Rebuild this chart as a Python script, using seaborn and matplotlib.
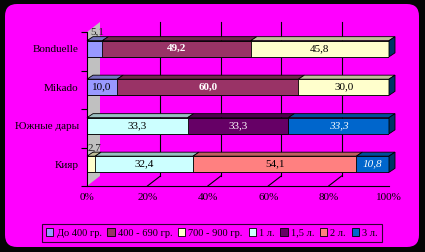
import numpy as np
import pandas as pd
import seaborn as sns
import matplotlib
matplotlib.use("Agg")
import matplotlib.pyplot as plt
from matplotlib.patches import Polygon, Patch, FancyBboxPatch

# ---- data ----
categories = ["Bonduelle", "Mikado", "Южные дары", "Кияр"]
segments = ["До 400 гр.", "400 - 690 гр.", "700 - 900 гр.", "1 л.", "1,5 л.", "2 л.", "3 л."]
colors = ["#9999FF", "#993366", "#FFFFCC", "#CCFFFF", "#660066", "#FF8080", "#0066CC"]
do400 = [5.1, 10.0, 0, 0]
g400_690 = [49.2, 60.0, 0, 0]
g700_900 = [45.8, 30.0, 0, 2.7]
l1 = [0, 0, 33.3, 32.4]
l15 = [0, 0, 33.3, 0]
l2 = [0, 0, 0, 54.1]
l3 = [0, 0, 33.3, 10.8]
x_ticks = [0, 20, 40, 60, 80, 100]
x_ticklabels = ["0%", "20%", "40%", "60%", "80%", "100%"]

df = pd.DataFrame(dict(zip(segments, [do400, g400_690, g700_900, l1, l15, l2, l3])),
                  index=categories)
frac = df.div(df.sum(axis=1), axis=0)

plt.rcParams['font.family'] = ['Liberation Serif', 'DejaVu Serif']

W, H = 425, 252
fig = plt.figure(figsize=(W / 100, H / 100), dpi=100)
fig.patch.set_facecolor("#050505")
fig.add_artist(FancyBboxPatch((0.05, 0.05), 4.14, 2.43,
                              boxstyle="round,pad=0,rounding_size=0.12",
                              transform=fig.dpi_scale_trans,
                              facecolor="#FF00FF", edgecolor="none", zorder=-5))

ax_l, ax_r, ax_t, ax_b = 87, 389, 32, 186
ax = fig.add_axes([ax_l / W, 1 - ax_b / H, (ax_r - ax_l) / W, (ax_b - ax_t) / H])
ax.set_facecolor("none")

# draw stacked bars back-to-front with seaborn (cumulative totals)
for j in reversed(range(len(segments))):
    cum = frac[segments[:j + 1]].sum(axis=1).values
    sns.barplot(x=cum, y=categories, orient="h", color=colors[j], saturation=1,
                width=0.42, edgecolor="black", linewidth=0.6, errorbar=None,
                ax=ax, zorder=3)

shift_px = 2.5
ypx = 4 / (ax_b - ax_t)
xpx = 1 / (ax_r - ax_l)
s = shift_px * ypx
ybot, ytop = 3.5 + s, -0.5 + s
ax.set_xlim(0, 1)
ax.set_ylim(ybot, ytop)

# back wall / grid (3D)
dxw, dyw = 13 * xpx, 10 * ypx
ax.add_patch(Polygon([(0, ybot), (dxw, ybot - dyw), (dxw, ytop - dyw), (0, ytop)],
                     closed=True, facecolor="#C0C0C0", edgecolor="none",
                     zorder=1.5, clip_on=False))
for v in x_ticks[1:-1]:
    xv = v / 100
    ax.plot([xv + dxw, xv + dxw], [ybot - dyw, ytop - dyw], color="black", lw=0.8,
            zorder=1, clip_on=False)
    ax.plot([xv, xv + dxw], [ybot, ybot - dyw], color="black", lw=0.8,
            zorder=1, clip_on=False)

# bar 3D faces
def darker(c, f=0.75):
    r, g, b = matplotlib.colors.to_rgb(c)
    return (r * f, g * f, b * f)

dx, dy = 6 * xpx, 4 * ypx
bh = 0.42
label_style = {
    0: dict(color="black"),
    1: dict(color="white", fontweight="bold"),
    2: dict(color="black"),
    3: dict(color="black"),
    4: dict(color="white"),
    5: dict(color="black"),
    6: dict(color="white", fontstyle="italic"),
}
for i, cat in enumerate(categories):
    top = i - bh / 2
    bot = i + bh / 2
    start = 0.0
    for j, seg in enumerate(segments):
        w = frac.loc[cat, seg]
        if w <= 0:
            continue
        end = start + w
        ax.add_patch(Polygon([(start, top), (end, top), (end + dx, top - dy), (start + dx, top - dy)],
                             closed=True, facecolor=darker(colors[j]), edgecolor="black",
                             lw=0.6, zorder=4, clip_on=False))
        val = df.loc[cat, seg]
        txt = f"{val:.1f}".replace(".", ",")
        if val < 6:
            ax.text(start + w / 2 + 3 * xpx, top - dy, txt, ha="center", va="bottom",
                    fontsize=8, color="#202020", zorder=10, clip_on=False)
        else:
            ax.text(start + w / 2, i, txt, ha="center", va="center", fontsize=8,
                    zorder=6, **label_style[j])
        start = end
    ax.add_patch(Polygon([(start, top), (start + dx, top - dy), (start + dx, bot - dy), (start, bot)],
                         closed=True, facecolor="#003366", edgecolor="black",
                         lw=0.6, zorder=4, clip_on=False))

# axes styling
for sp in ["top", "right"]:
    ax.spines[sp].set_visible(False)
for sp in ["left", "bottom"]:
    ax.spines[sp].set_color("black")
    ax.spines[sp].set_linewidth(0.8)
    ax.spines[sp].set_zorder(5)
ax.set_xticks([v / 100 for v in x_ticks])
ax.set_xticklabels(x_ticklabels, fontsize=8)
ax.tick_params(axis="x", length=0, pad=5)
ax.set_yticks(range(len(categories)))
ax.set_yticklabels(categories, fontsize=8)
ax.tick_params(axis="y", which="major", length=0, pad=6)
ax.set_yticks([ytop + k for k in range(5)], minor=True)
ax.tick_params(axis="y", which="minor", length=4, width=0.8, color="black")
ax.set_xlabel("")
ax.set_ylabel("")
ax.grid(False)

handles = [Patch(facecolor=c, edgecolor="black", lw=0.6) for c in colors]
leg = fig.legend(handles, segments, loc="center", bbox_to_anchor=(212 / W, 1 - 233 / H),
                 ncol=7, frameon=True, fancybox=False, fontsize=7.5,
                 handlelength=0.7, handleheight=0.7, handletextpad=0.3,
                 columnspacing=0.55, borderpad=0.4)
leg.get_frame().set_facecolor("#FF00FF")
leg.get_frame().set_edgecolor("black")
leg.get_frame().set_linewidth(0.8)

fig.savefig("out.png", dpi=100, facecolor=fig.get_facecolor())
